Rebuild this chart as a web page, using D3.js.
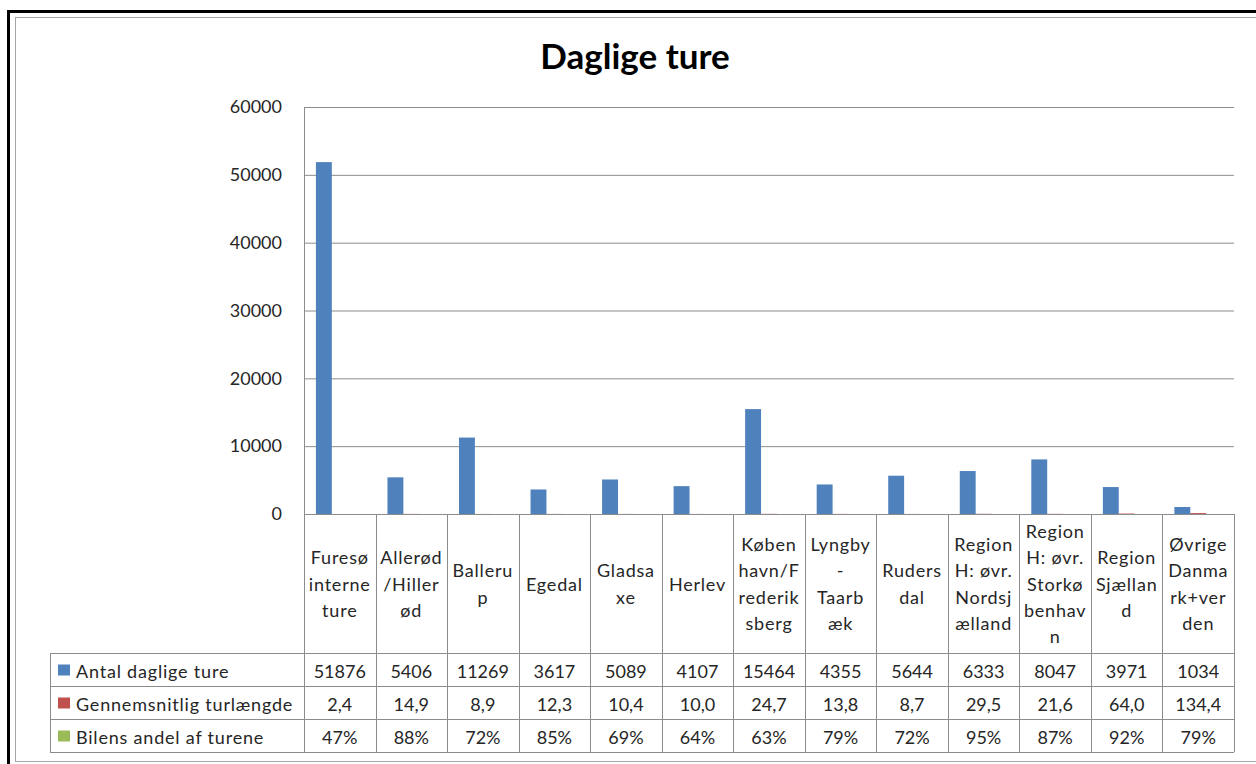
<!DOCTYPE html>
<html lang="da">
<head>
<meta charset="utf-8">
<title>Daglige ture</title>
<script src="https://d3js.org/d3.v7.min.js"></script>
<style>
  body { margin: 0; background: #fff; }
  svg text { font-family: Lato, "Noto Sans", sans-serif; fill: #262626; }
</style>
</head>
<body>
<script>
// category labels, already broken into lines as in the data table
var categories = [
  ["Furesø", "interne", "ture"],
  ["Allerød", "/Hiller", "ød"],
  ["Balleru", "p"],
  ["Egedal"],
  ["Gladsa", "xe"],
  ["Herlev"],
  ["Køben", "havn/F", "rederik", "sberg"],
  ["Lyngby", "-", "Taarb", "æk"],
  ["Ruders", "dal"],
  ["Region", "H: øvr.", "Nordsj", "ælland"],
  ["Region", "H: øvr.", "Storkø", "benhav", "n"],
  ["Region", "Sjællan", "d"],
  ["Øvrige", "Danma", "rk+ver", "den"]
];
var seriesNames = ["Antal daglige ture", "Gennemsnitlig turlængde", "Bilens andel af turene"];
var seriesColors = ["#4f81bd", "#c0504d", "#9bbb59"];
var antal = [51876, 5406, 11269, 3617, 5089, 4107, 15464, 4355, 5644, 6333, 8047, 3971, 1034];
var laengde = [2.4, 14.9, 8.9, 12.3, 10.4, 10.0, 24.7, 13.8, 8.7, 29.5, 21.6, 64.0, 134.4];
var bilAndel = [0.47, 0.88, 0.72, 0.85, 0.69, 0.64, 0.63, 0.79, 0.72, 0.95, 0.87, 0.92, 0.79];
var yTicks = [0, 10000, 20000, 30000, 40000, 50000, 60000];

var W = 1256, H = 764;
var plotLeft = 304, plotRight = 1234, plotTop = 107, plotBottom = 514;
var tableLeft = 50, rowTop = 653, rowH = 33;
var lineCol = "#8c8c8c";

var svg = d3.select("body").append("svg").attr("width", W).attr("height", H);

// frame
svg.append("rect").attr("x", 15.5).attr("y", 17.5).attr("width", W).attr("height", 744)
  .attr("fill", "none").attr("stroke", "#a6a6a6").attr("stroke-width", 1);
svg.append("line").attr("x1", 7).attr("x2", W).attr("y1", 11.5).attr("y2", 11.5)
  .attr("stroke", "#000").attr("stroke-width", 3);
svg.append("line").attr("x1", 8.5).attr("x2", 8.5).attr("y1", 10).attr("y2", H)
  .attr("stroke", "#000").attr("stroke-width", 3);

// title
svg.append("text").attr("x", 635).attr("y", 69).attr("text-anchor", "middle")
  .style("font-size", "35px").style("font-weight", "bold").style("fill", "#000")
  .text("Daglige ture");

var x = d3.scaleBand().domain(d3.range(categories.length)).range([plotLeft, plotRight]);
var xs = d3.scaleBand().domain(d3.range(3)).range([0, x.bandwidth()]).paddingOuter(0.75);
var y = d3.scaleLinear().domain([0, 60000]).range([plotBottom, plotTop]);

// gridlines + labels
var yAxis = svg.append("g").attr("transform", "translate(" + plotLeft + ",0)")
  .call(d3.axisLeft(y).tickValues(yTicks).tickSize(-(plotRight - plotLeft)).tickPadding(22).tickFormat(d3.format("d")));
yAxis.select(".domain").remove();
yAxis.selectAll(".tick line").attr("stroke", lineCol);
yAxis.selectAll(".tick text").style("font-size", "18px").attr("font-family", null);
svg.append("line").attr("x1", plotLeft + 0.5).attr("x2", plotLeft + 0.5).attr("y1", plotTop).attr("y2", plotBottom)
  .attr("stroke", lineCol);

// bars
var series = [antal, laengde, bilAndel];
series.forEach(function (vals, s) {
  svg.append("g").selectAll("rect").data(vals).enter().append("rect")
    .attr("x", function (d, i) { return x(i) + xs(s); })
    .attr("y", function (d) { return y(d); })
    .attr("width", xs.bandwidth())
    .attr("height", function (d) { return plotBottom - y(d); })
    .attr("fill", seriesColors[s]);
});

// data table grid
var tableBottom = rowTop + rowH * 3;
var g = svg.append("g").attr("stroke", lineCol).attr("fill", "none");
g.append("line").attr("x1", plotLeft).attr("x2", plotRight).attr("y1", plotBottom + 0.5).attr("y2", plotBottom + 0.5);
d3.range(4).forEach(function (r) {
  g.append("line").attr("x1", tableLeft).attr("x2", plotRight)
    .attr("y1", rowTop + r * rowH + 0.5).attr("y2", rowTop + r * rowH + 0.5);
});
d3.range(categories.length + 1).forEach(function (i) {
  var xx = Math.round(i < categories.length ? x(i) : plotRight) + 0.5;
  g.append("line").attr("x1", xx).attr("x2", xx).attr("y1", plotBottom).attr("y2", tableBottom);
});
g.append("line").attr("x1", tableLeft + 0.5).attr("x2", tableLeft + 0.5).attr("y1", rowTop).attr("y2", tableBottom);

// category header text
var headMid = (plotBottom + rowTop) / 2, lineH = 26.3;
categories.forEach(function (lines, i) {
  var t = svg.append("text").attr("text-anchor", "middle").style("font-size", "18px")
    .style("letter-spacing", "0.8px");
  lines.forEach(function (ln, k) {
    t.append("tspan").attr("x", x(i) + x.bandwidth() / 2)
      .attr("y", headMid + (k - (lines.length - 1) / 2) * lineH)
      .attr("dominant-baseline", "central").text(ln);
  });
});

// rows
var fmtDec = function (v) { return v.toFixed(1).replace(".", ","); };
var rowFmt = [d3.format("d"), fmtDec, function (v) { return Math.round(v * 100) + "%"; }];
series.forEach(function (vals, s) {
  var cy = rowTop + s * rowH + rowH / 2 + 1;
  svg.append("rect").attr("x", 58).attr("y", cy - 6).attr("width", 12).attr("height", 11)
    .attr("fill", seriesColors[s]);
  svg.append("text").attr("x", 76).attr("y", cy).attr("dominant-baseline", "central")
    .style("font-size", "18px").style("letter-spacing", "0.8px").text(seriesNames[s]);
  svg.append("g").selectAll("text").data(vals).enter().append("text")
    .attr("x", function (d, i) { return x(i) + x.bandwidth() / 2; })
    .attr("y", cy).attr("text-anchor", "middle").attr("dominant-baseline", "central")
    .style("font-size", "18px").text(rowFmt[s]);
});
</script>
</body>
</html>
